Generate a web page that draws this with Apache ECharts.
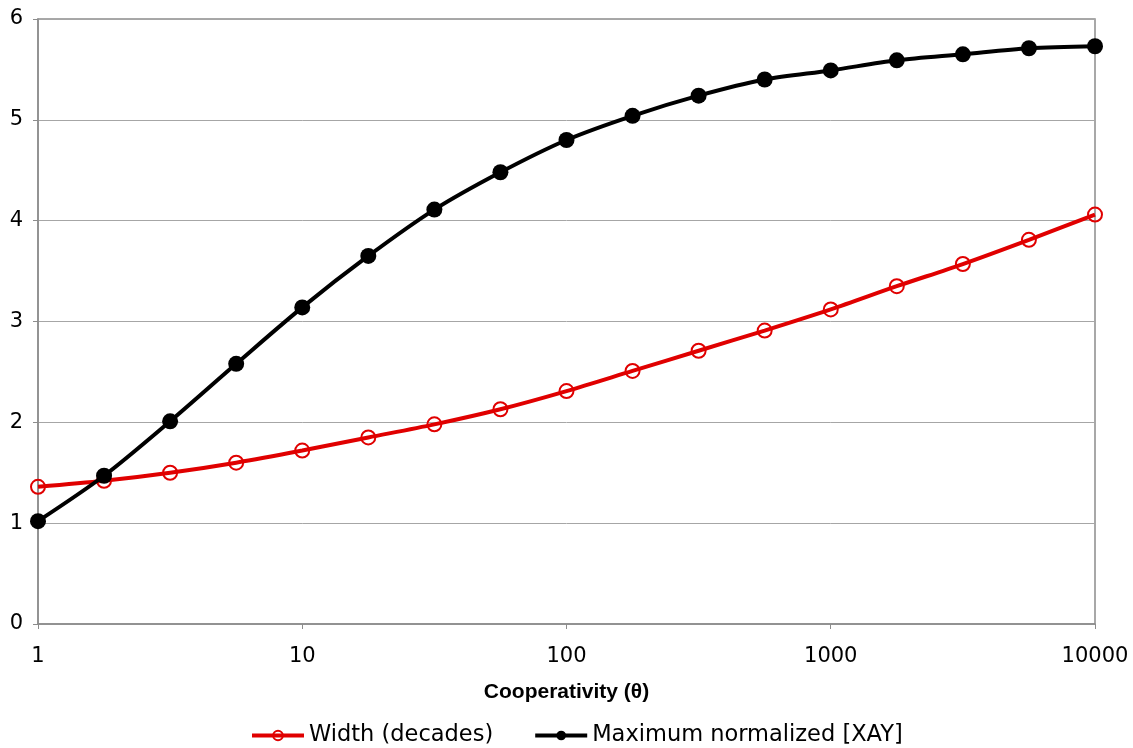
<!DOCTYPE html>
<html>
<head>
<meta charset="utf-8">
<script src="https://cdn.jsdelivr.net/npm/echarts@6/dist/echarts.min.js"></script>
<style>
  html, body { margin: 0; padding: 0; background: #fff; }
  #chart { width: 1133px; height: 748px; }
</style>
</head>
<body>
<div id="chart"></div>
<script>
// cooperativity values, quarter decades from 1 to 10000
const theta = [1, 1.778, 3.162, 5.623, 10, 17.78, 31.62, 56.23, 100, 177.8, 316.2, 562.3, 1000, 1778, 3162, 5623, 10000]
const widthDecades = [1.36, 1.42, 1.50, 1.60, 1.72, 1.85, 1.98, 2.13, 2.31, 2.51, 2.71, 2.91, 3.12, 3.35, 3.57, 3.81, 4.06]
const maxXAY = [1.02, 1.47, 2.01, 2.58, 3.14, 3.65, 4.11, 4.48, 4.80, 5.04, 5.24, 5.40, 5.49, 5.59, 5.65, 5.71, 5.73]

const pairs = ys => theta.map((x, i) => [x, ys[i]])

const chart = echarts.init(document.getElementById('chart'))

const option = {
  animation: false,
  grid: {
    left: 38, right: 38, top: 19, bottom: 124,
    show: true, borderColor: '#8c8c8c', borderWidth: 1.5
  },
  legend: {
    bottom: -4,
    left: 245,
    itemWidth: 52,
    itemHeight: 12,
    itemGap: 40,
    lineStyle: { width: 4 },
    textStyle: { fontFamily: 'DejaVu Sans', fontSize: 22.5, color: '#000' },
    data: ['Width (decades)', 'Maximum normalized [XAY]']
  },
  xAxis: {
    type: 'log',
    logBase: 10,
    min: 1,
    max: 10000,
    name: 'Cooperativity (θ)',
    nameLocation: 'middle',
    nameGap: 58,
    nameTextStyle: { fontFamily: 'Liberation Sans', fontWeight: 'bold', fontSize: 21, color: '#000' },
    axisLine: { lineStyle: { color: '#8c8c8c', width: 1.5 } },
    axisTick: { show: true, length: 5, lineStyle: { color: '#8c8c8c' } },
    axisLabel: {
      fontFamily: 'DejaVu Sans', fontSize: 21, color: '#000', margin: 22,
      formatter: v => String(v)
    },
    splitLine: { show: false },
    minorTick: { show: false }
  },
  yAxis: {
    type: 'value',
    min: 0,
    max: 6,
    interval: 1,
    axisLine: { show: true, lineStyle: { color: '#8c8c8c', width: 1.5 } },
    axisTick: { show: true, length: 5, lineStyle: { color: '#8c8c8c' } },
    axisLabel: { fontFamily: 'DejaVu Sans', fontSize: 21, color: '#000', margin: 15 },
    splitLine: { lineStyle: { color: '#a6a6a6', width: 1 } }
  },
  series: [
    {
      name: 'Width (decades)',
      type: 'line',
      data: pairs(widthDecades),
      smooth: 0.3,
      symbol: 'circle',
      symbolSize: 14,
      itemStyle: { color: 'rgba(255,255,255,0)', borderColor: '#e00000', borderWidth: 2 },
      lineStyle: { color: '#e00000', width: 4 },
      z: 2
    },
    {
      name: 'Maximum normalized [XAY]',
      type: 'line',
      data: pairs(maxXAY),
      smooth: 0.3,
      symbol: 'circle',
      symbolSize: 16,
      itemStyle: { color: '#000000', borderColor: '#000000', borderWidth: 0 },
      lineStyle: { color: '#000000', width: 4 },
      z: 3
    }
  ]
}

chart.setOption(option)
</script>
</body>
</html>
